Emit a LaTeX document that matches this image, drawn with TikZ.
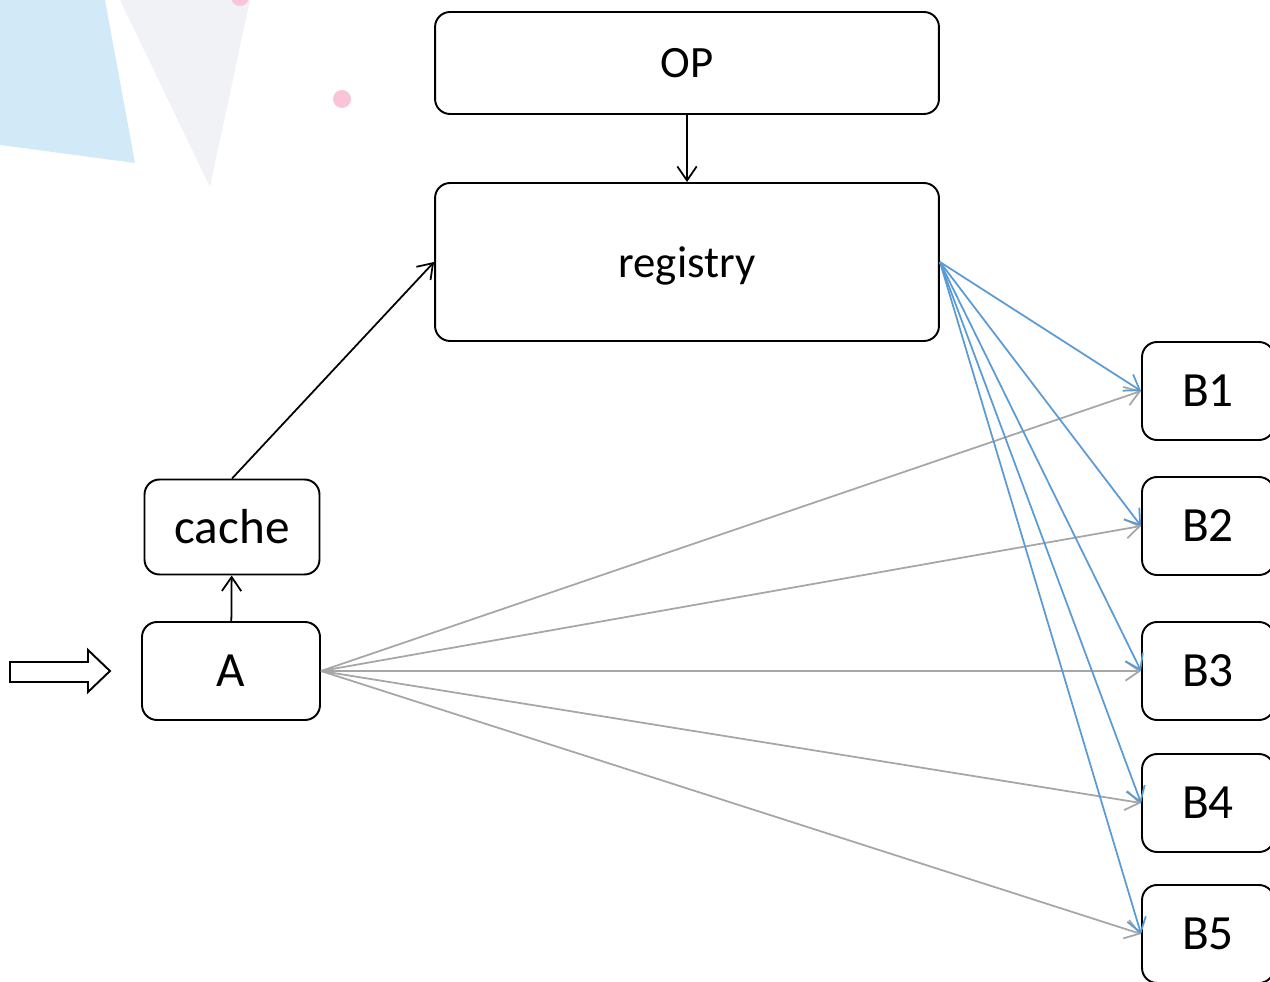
\documentclass[tikz,border=0pt]{standalone}
\usepackage{fontspec}
\setmainfont{Carlito}
\usetikzlibrary{arrows.meta}
\definecolor{callblue}{HTML}{5B9BD5}
\definecolor{callgray}{HTML}{A6A6A6}
\definecolor{bgblue}{HTML}{D2E9F8}
\definecolor{bggray}{HTML}{F1F2F6}
\definecolor{bgpink}{HTML}{F8C4D6}
\begin{document}
\begin{tikzpicture}
    [x=0.02cm, y=-0.02cm,
    box/.style={draw=black, line width=1.1pt, rounded corners=0.3cm,
        fill=white, inner sep=0pt, align=center},
    bigbox/.style={box, minimum width=10.08cm, text depth=0pt,
        font=\fontsize{25.5}{30}\selectfont},
    smallbox/.style={box, minimum width=2.64cm, minimum height=1.96cm,
        font=\fontsize{28}{33}\selectfont},
    conn/.style={line width=1pt, -{Straight Barb[length=8pt, width=11pt]}},
    call/.style={conn, draw=callblue},
    direct/.style={conn, draw=callgray}]
    \useasboundingbox (0,0) rectangle (1270,982);
    % background
    \fill[bgblue] (0,0) -- (105,0) -- (135,163) -- (0,145) -- cycle;
    \fill[bggray] (120,0) -- (250,0) -- (210,187) -- cycle;
    \fill[bgpink] (342,99) circle (9);
    \fill[bgpink] (240,-3) circle (9);
    % nodes
    \node[bigbox, minimum height=2.04cm] (op) at (687,63) {OP};
    \node[bigbox, minimum height=3.16cm] (registry) at (687,262) {registry};
    \node[smallbox, minimum width=3.5cm, minimum height=1.9cm] (cache) at (232,527) {cache};
    \node[smallbox, minimum width=3.56cm] (a) at (231,671) {A};
    \node[smallbox] (b1) at (1208,391) {B1};
    \node[smallbox] (b2) at (1208,526) {B2};
    \node[smallbox] (b3) at (1208,671) {B3};
    \node[smallbox] (b4) at (1208,803) {B4};
    \node[smallbox] (b5) at (1208,934) {B5};
    % input
    \draw[line width=1.1pt, fill=white] (10,662) -- (88,662) -- (88,650) -- (110,671)
        -- (88,692) -- (88,682) -- (10,682) -- cycle;
    % connectors
    \draw[conn] (op) -- (registry);
    \draw[conn] (a) -- (cache);
    \draw[conn] (cache.north) -- (registry.west);
    \foreach \b in {b1,b2,b3,b4,b5} {
        \draw[direct] (a.east) -- (\b.west);
        \draw[call] (registry.east) -- (\b.west);
    }
\end{tikzpicture}
\end{document}
